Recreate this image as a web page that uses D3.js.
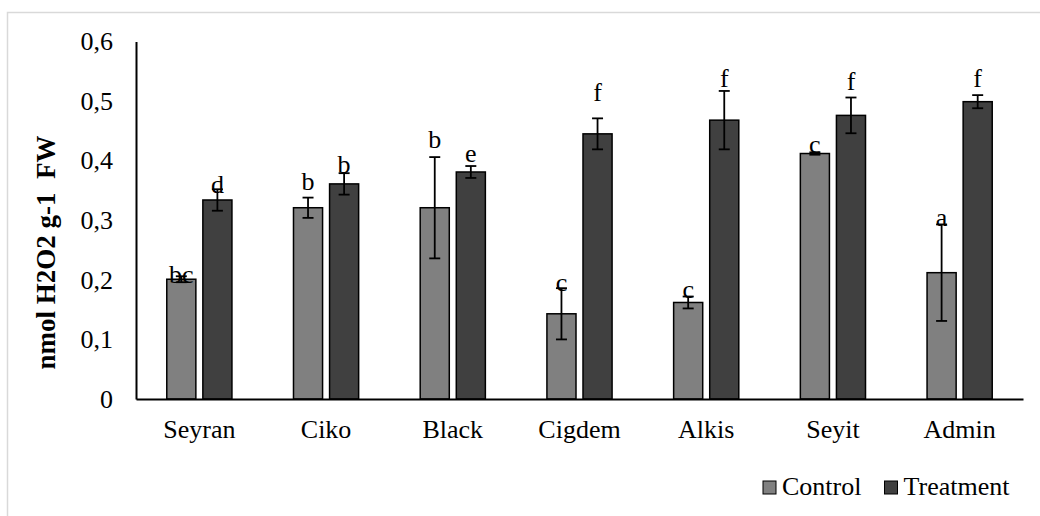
<!DOCTYPE html>
<html lang="en">
<head>
  <meta charset="UTF-8">
  <title>H2O2 content</title>
  <script src="https://d3js.org/d3.v7.min.js"></script>
  <style>
    body { margin: 0; background: #fff; }
    svg { display: block; font-family: 'Liberation Serif', 'Times New Roman', serif; }
  </style>
</head>
<body>
  <svg width="1040" height="516"></svg>

  <script>
    const categories = ["Seyran", "Ciko", "Black", "Cigdem", "Alkis", "Seyit", "Admin"];
    const seriesNames = ["Control", "Treatment"];
    const control = [0.201, 0.321, 0.321, 0.143, 0.162, 0.412, 0.212];
    const treatment = [0.334, 0.361, 0.381, 0.445, 0.468, 0.476, 0.499];
    const controlErr = [0.005, 0.017, 0.085, 0.043, 0.010, 0.002, 0.081];
    const treatmentErr = [0.018, 0.018, 0.010, 0.026, 0.049, 0.030, 0.011];
    const controlLetters = ["bc", "b", "b", "c", "c", "c", "a"];
    const treatmentLetters = ["d", "b", "e", "f", "f", "f", "f"];
    // height (in axis units) where each letter sits
    const controlLetterY = [0.195, 0.350, 0.422, 0.182, 0.169, 0.413, 0.291];
    const treatmentLetterY = [0.346, 0.379, 0.397, 0.500, 0.523, 0.518, 0.523];
    const yTicks = [0, 0.1, 0.2, 0.3, 0.4, 0.5, 0.6];

    const colors = { Control: "#808080", Treatment: "#404040" };

    const rows = [];
    categories.forEach((c, i) => {
      rows.push({ cat: c, s: "Control", v: control[i], e: controlErr[i], l: controlLetters[i], ly: controlLetterY[i] });
      rows.push({ cat: c, s: "Treatment", v: treatment[i], e: treatmentErr[i], l: treatmentLetters[i], ly: treatmentLetterY[i] });
    });

    const svg = d3.select("svg");

    // chart area border
    svg.append("rect")
      .attr("x", 7.5).attr("y", 12.5)
      .attr("width", 1100).attr("height", 600)
      .attr("fill", "none")
      .attr("stroke", "#d9d9d9")
      .attr("stroke-width", 1.5);

    const x = d3.scaleBand().domain(categories).range([136, 1023]);
    const x1 = d3.scaleBand().domain(seriesNames).range([0, x.bandwidth()])
      .paddingInner(0.194).paddingOuter(0.853);
    const y = d3.scaleLinear().domain([0, 0.6]).range([399, 41.5]);

    const loc = d3.formatLocale({ decimal: ",", thousands: ".", grouping: [3], currency: ["", ""] });
    const fmt = loc.format(".1f");

    const yAxis = svg.append("g")
      .attr("transform", "translate(136,0)")
      .call(d3.axisLeft(y).tickValues(yTicks).tickSize(0).tickPadding(23)
        .tickFormat(d => d === 0 ? "0" : fmt(d)));
    yAxis.attr("font-family", null).attr("font-size", 26);
    yAxis.select(".domain").attr("stroke", "#000").attr("stroke-width", 2);
    yAxis.selectAll("text").attr("fill", "#000");

    // bars
    svg.append("g")
      .selectAll("rect")
      .data(rows)
      .join("rect")
      .attr("x", d => x(d.cat) + x1(d.s))
      .attr("y", d => y(d.v))
      .attr("width", x1.bandwidth())
      .attr("height", d => y(0) - y(d.v))
      .attr("fill", d => colors[d.s])
      .attr("stroke", "#000")
      .attr("stroke-width", 1.5);

    const xAxis = svg.append("g")
      .attr("transform", "translate(0,399)")
      .call(d3.axisBottom(x).tickSize(0).tickSizeOuter(0));
    xAxis.attr("font-family", null).attr("font-size", 26);
    xAxis.select(".domain").attr("stroke", "#000").attr("stroke-width", 1.8);
    xAxis.selectAll("text")
      .attr("dy", null).attr("y", 39)
      .attr("fill", "#000");

    // error bars
    const eb = svg.append("g").attr("stroke", "#000").attr("stroke-width", 1.8);
    const cx = d => x(d.cat) + x1(d.s) + x1.bandwidth() / 2;
    eb.selectAll("line.v").data(rows).join("line").attr("class", "v")
      .attr("x1", cx).attr("x2", cx)
      .attr("y1", d => y(d.v + d.e)).attr("y2", d => y(d.v - d.e));
    eb.selectAll("line.t").data(rows).join("line").attr("class", "t")
      .attr("x1", d => cx(d) - 5.5).attr("x2", d => cx(d) + 5.5)
      .attr("y1", d => y(d.v + d.e)).attr("y2", d => y(d.v + d.e));
    eb.selectAll("line.b").data(rows).join("line").attr("class", "b")
      .attr("x1", d => cx(d) - 5.5).attr("x2", d => cx(d) + 5.5)
      .attr("y1", d => y(d.v - d.e)).attr("y2", d => y(d.v - d.e));

    // significance letters
    svg.append("g")
      .selectAll("text")
      .data(rows)
      .join("text")
      .attr("x", cx)
      .attr("y", d => y(d.ly))
      .attr("text-anchor", "middle")
      .attr("font-size", 26)
      .text(d => d.l);

    // y title
    svg.append("text")
      .attr("transform", "translate(55,252.5) rotate(-90)")
      .attr("text-anchor", "middle")
      .attr("font-size", 27)
      .attr("font-weight", "bold")
      .attr("xml:space", "preserve")
      .text("nmol H2O2 g-1  FW");

    // legend
    const legX = [763, 884.5];
    const leg = svg.append("g");
    seriesNames.forEach((s, i) => {
      leg.append("rect")
        .attr("x", legX[i]).attr("y", 481)
        .attr("width", 13).attr("height", 13)
        .attr("fill", colors[s]).attr("stroke", "#000").attr("stroke-width", 1);
      leg.append("text")
        .attr("x", legX[i] + 19).attr("y", 495)
        .attr("font-size", 26)
        .text(s);
    });
  </script>
</body>
</html>
